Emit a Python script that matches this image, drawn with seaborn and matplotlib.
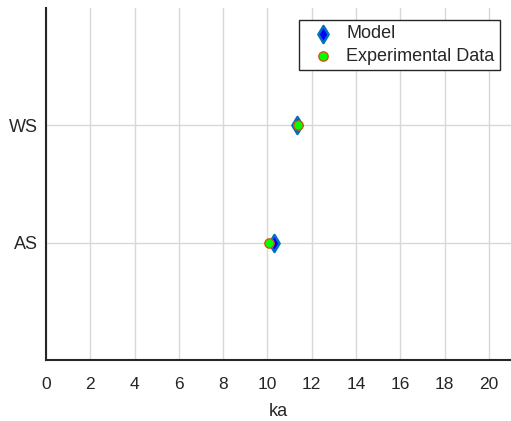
import matplotlib
matplotlib.use("Agg")
import matplotlib.pyplot as plt
import seaborn as sns
import pandas as pd

categories = ["AS", "WS"]
model_ka = [10.3, 11.33]
experimental_ka = [10.05, 11.38]
x_ticks = [0, 2, 4, 6, 8, 10, 12, 14, 16, 18, 20]

sns.set_style("white")
plt.rcParams["font.family"] = ["Liberation Sans", "DejaVu Sans"]

cat_pos = {c: i + 1 for i, c in enumerate(categories)}
df_model = pd.DataFrame({"ka": model_ka, "pos": [cat_pos[c] for c in categories]})
df_exp = pd.DataFrame({"ka": experimental_ka, "pos": [cat_pos[c] for c in categories]})

fig = plt.figure(figsize=(5.11, 4.21), dpi=100)
ax = fig.add_axes([0.09, 0.145, 0.91, 0.836])

sns.scatterplot(data=df_model, x="ka", y="pos", ax=ax, marker="d", s=75,
                color="#0000ff", edgecolor="#0072BD", linewidth=1.8,
                label="Model", zorder=3)
sns.scatterplot(data=df_exp, x="ka", y="pos", ax=ax, marker="o", s=45,
                color="#00ff00", edgecolor="#D95319", linewidth=1.0,
                label="Experimental Data", zorder=4)

ax.set_xlim(0, 21)
ax.set_ylim(0, 3)
ax.set_xticks(x_ticks)
ax.set_xticklabels([str(t) for t in x_ticks])
ax.set_yticks(list(cat_pos.values()))
ax.set_yticklabels(categories)
ax.set_xlabel("ka", fontsize=13, labelpad=8)
ax.set_ylabel("")
ax.tick_params(axis="both", labelsize=12.5, direction="in", length=4,
               width=1, color="#262626", labelcolor="#262626")
ax.tick_params(axis="x", pad=12)
ax.tick_params(axis="y", labelsize=13, pad=6)
ax.grid(True, color="#d8d8d8", linewidth=1.0)
ax.set_axisbelow(True)

for side in ["top", "right"]:
    ax.spines[side].set_visible(False)
for side in ["left", "bottom"]:
    ax.spines[side].set_color("#262626")
    ax.spines[side].set_linewidth(1.5)

leg = ax.legend(loc="upper right", bbox_to_anchor=(0.976, 0.966), fontsize=13,
                frameon=True, fancybox=False, edgecolor="#262626",
                framealpha=1, borderpad=0.3, labelspacing=0.3,
                handletextpad=0.3, borderaxespad=0.0)
leg.get_frame().set_linewidth(1.0)

fig.savefig("out.png", dpi=100)
